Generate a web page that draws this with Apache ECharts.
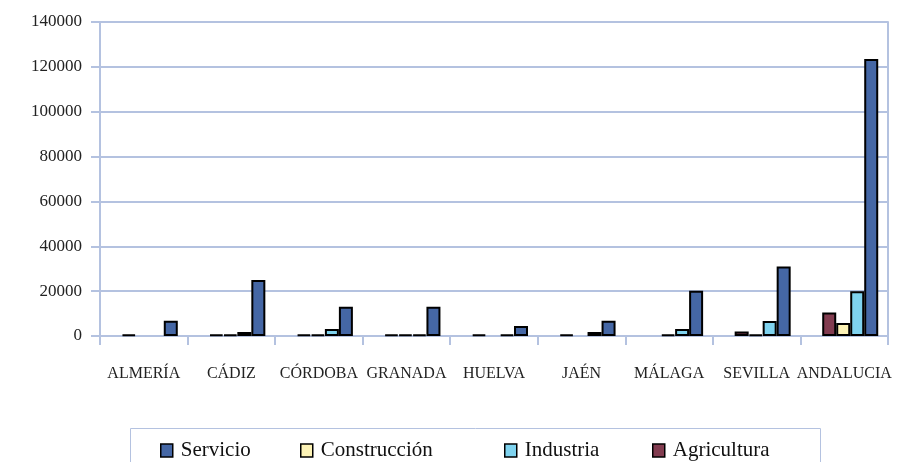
<!DOCTYPE html>
<html>
<head>
<meta charset="utf-8">
<script src="https://cdn.jsdelivr.net/npm/echarts@6/dist/echarts.min.js"></script>
<style>
  html, body { margin: 0; padding: 0; background: #fff; }
  #main { width: 898px; height: 462px; }
</style>
</head>
<body>
<div id="main"></div>
<script>
// datos
const provincias = ["ALMERÍA", "CÁDIZ", "CÓRDOBA", "GRANADA", "HUELVA", "JAÉN", "MÁLAGA", "SEVILLA", "ANDALUCIA"];
const agricultura = [600, 600, 600, 600, 600, 600, 0, 2000, 10500];
const construccion = [0, 600, 600, 600, 0, 0, 600, 600, 5800];
const industria = [0, 1800, 3100, 600, 600, 1800, 3100, 6700, 20000];
const servicio = [6800, 25000, 13000, 13000, 4500, 6800, 20200, 31000, 123500];
const yTicks = [0, 20000, 40000, 60000, 80000, 100000, 120000, 140000];
const leyenda = ["Servicio", "Construcción", "Industria", "Agricultura"];

const ejeColor = "#b4c2e0";
const serif = "Liberation Serif";

const chart = echarts.init(document.getElementById("main"));

function serie(name, data, color) {
  return {
    name: name,
    type: "bar",
    // los ceros no se dibujan en el original
    data: data.map((v) => (v === 0 ? "-" : v)),
    barGap: "0%",
    barWidth: 14,
    itemStyle: { color: color, borderColor: "#000", borderWidth: 2 },
  };
}

// una leyenda por elemento, con el espaciado irregular del original
const leyendaX = [160, 300, 504, 652];
const legends = leyenda.map((name, i) => ({
  data: [name],
  left: leyendaX[i],
  top: 440,
  padding: 0,
  itemWidth: 12,
  itemHeight: 13,
  icon: "rect",
  itemStyle: { borderColor: "#000", borderWidth: 1.5 },
  textStyle: { fontFamily: serif, fontSize: 21, color: "#111", padding: [0, 0, 0, 3] },
}));

chart.setOption({
  animation: false,
  grid: { left: 100, right: 10, top: 22, bottom: 126 },
  graphic: [
    {
      type: "rect",
      shape: { x: 130.5, y: 428.5, width: 690, height: 50 },
      style: { fill: "#fff", stroke: ejeColor, lineWidth: 1 },
      z: 0,
    },
  ],
  legend: legends,
  xAxis: {
    type: "category",
    data: provincias,
    axisLine: { lineStyle: { color: ejeColor, width: 2 } },
    axisTick: { show: true, length: 9, lineStyle: { color: ejeColor, width: 2 } },
    axisLabel: {
      interval: 0,
      margin: 30,
      fontFamily: serif,
      fontSize: 16,
      color: "#222",
    },
  },
  yAxis: [
    {
      type: "value",
      min: yTicks[0],
      max: yTicks[yTicks.length - 1],
      interval: 20000,
      axisLine: { show: true, lineStyle: { color: ejeColor, width: 2 } },
      axisTick: { show: true, length: 9, lineStyle: { color: ejeColor, width: 2 } },
      splitLine: { lineStyle: { color: ejeColor, width: 2 } },
      axisLabel: {
        margin: 18,
        fontFamily: serif,
        fontSize: 17,
        color: "#222",
        formatter: (v) => String(v),
      },
    },
    {
      type: "value",
      position: "right",
      min: yTicks[0],
      max: yTicks[yTicks.length - 1],
      interval: 20000,
      axisLine: { show: true, lineStyle: { color: ejeColor, width: 2 } },
      axisTick: { show: false },
      axisLabel: { show: false },
      splitLine: { show: false },
    },
  ],
  series: [
    // hueco vacio: desplaza el grupo de barras un poco a la derecha, como en el original
    { name: "hueco", type: "bar", data: provincias.map(() => "-"), barWidth: 12, barGap: "0%" },
    serie("Agricultura", agricultura, "#823c50"),
    serie("Construcción", construccion, "#fdf3b6"),
    serie("Industria", industria, "#7fd3ef"),
    serie("Servicio", servicio, "#4567a5"),
  ],
});
</script>
</body>
</html>
